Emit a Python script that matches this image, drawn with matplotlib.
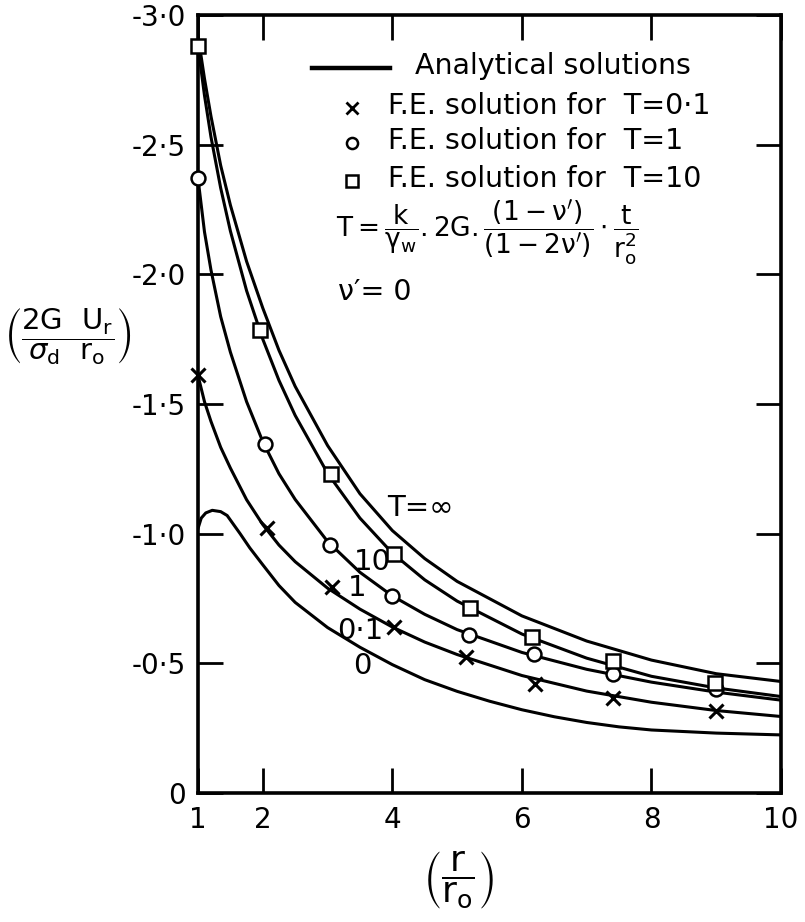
import matplotlib
matplotlib.use("Agg")
import matplotlib.pyplot as plt

plt.rcParams["font.family"] = ["DejaVu Sans"]
plt.rcParams["mathtext.fontset"] = "dejavusans"

# analytical curves: (r/r0, 2G Ur / sigma_d r0)
x_curve = [1.0, 1.1, 1.2, 1.35, 1.5, 1.75, 2.0, 2.25, 2.5, 3.0, 3.5, 4.0,
           4.5, 5.0, 6.0, 7.0, 8.0, 9.0, 10.0]
t_inf = [-2.92, -2.755, -2.61, -2.42, -2.267, -2.05, -1.87, -1.707, -1.568,
         -1.34, -1.154, -1.012, -0.904, -0.816, -0.683, -0.586, -0.5125,
         -0.46, -0.43]
t_10 = [-2.88, -2.69, -2.53, -2.333, -2.167, -1.937, -1.75, -1.591, -1.456,
        -1.233, -1.06, -0.925, -0.822, -0.74, -0.613, -0.52, -0.45, -0.405,
        -0.372]
t_1 = [-2.37, -2.164, -2.017, -1.837, -1.70, -1.509, -1.355, -1.231, -1.132,
       -0.97, -0.851, -0.76, -0.689, -0.63, -0.542, -0.477, -0.4275, -0.389,
       -0.358]
t_01 = [-1.61, -1.509, -1.433, -1.333, -1.253, -1.131, -1.035, -0.956,
        -0.892, -0.79, -0.709, -0.64, -0.582, -0.534, -0.453, -0.393, -0.35,
        -0.318, -0.295]

# T = 0 curve has the small hump near the cavity wall
x_t0 = [1.0, 1.05, 1.12, 1.22, 1.35, 1.45, 1.55, 1.65, 1.8, 2.0, 2.25, 2.5,
        3.0, 3.5, 4.0, 4.5, 5.0, 5.5, 6.0, 6.5, 7.0, 7.5, 8.0, 9.0, 10.0]
t_0 = [-1.02, -1.06, -1.08, -1.09, -1.085, -1.07, -1.035, -1.0, -0.945,
       -0.88, -0.80, -0.735, -0.638, -0.562, -0.495, -0.437, -0.392, -0.354,
       -0.321, -0.294, -0.272, -0.255, -0.243, -0.231, -0.224]

# finite element points
fe_x01 = [1.0, 2.06, 3.07, 4.03, 5.13, 6.2, 7.4, 9.0]
fe_y01 = [-1.61, -1.02, -0.795, -0.64, -0.525, -0.42, -0.365, -0.315]
fe_x1 = [1.0, 2.03, 3.04, 4.0, 5.18, 6.18, 7.4, 9.0]
fe_y1 = [-2.37, -1.346, -0.955, -0.76, -0.61, -0.535, -0.46, -0.40]
fe_x10 = [1.0, 1.95, 3.06, 4.03, 5.2, 6.15, 7.4, 8.98]
fe_y10 = [-2.88, -1.785, -1.23, -0.92, -0.715, -0.60, -0.51, -0.425]

x_ticks = [1, 2, 4, 6, 8, 10]
x_ticklabels = ["1", "2", "4", "6", "8", "10"]
y_ticks = [0, -0.5, -1.0, -1.5, -2.0, -2.5, -3.0]
y_ticklabels = ["0", "-0·5", "-1·0", "-1·5", "-2·0", "-2·5", "-3·0"]

W, H = 805, 922
fig = plt.figure(figsize=(W / 100, H / 100), dpi=100)
ax = fig.add_axes([198 / W, 1 - 793 / H, 583 / W, 778 / H])


def ax_xy(px, py):
    # pixel position in the figure -> axes fraction
    return (px - 198) / 583, (793 - py) / 778


lw = 2.2
for ys in (t_inf, t_10, t_1, t_01):
    ax.plot(x_curve, ys, color="black", lw=lw, solid_capstyle="round", zorder=2)
ax.plot(x_t0, t_0, color="black", lw=lw, zorder=2)

mk = dict(linestyle="none", color="black", markerfacecolor="white",
          markeredgecolor="black", markeredgewidth=1.8, markersize=10,
          zorder=4, clip_on=False)
ax.plot(fe_x01, fe_y01, marker="x", markersize=10, markeredgewidth=2.2,
        linestyle="none", color="black", zorder=4, clip_on=False)
ax.plot(fe_x1, fe_y1, marker="o", **mk)
ax.plot(fe_x10, fe_y10, marker="s", **mk)

ax.set_xlim(1, 10)
ax.set_ylim(0, -3.0)
ax.set_xticks(x_ticks)
ax.set_xticklabels(x_ticklabels)
ax.set_yticks(y_ticks)
ax.set_yticklabels(y_ticklabels)
ax.tick_params(direction="in", length=18, width=2, labelsize=20,
               top=True, right=True, pad=9)
for s in ax.spines.values():
    s.set_linewidth(2.6)

# curve labels
fs_lab = 21
ax.text(3.92, -1.10, "T=∞", fontsize=fs_lab, va="center")
ax.text(3.40, -0.89, "10", fontsize=fs_lab, va="center")
ax.text(3.32, -0.79, "1", fontsize=fs_lab, va="center")
ax.text(3.15, -0.625, "0·1", fontsize=fs_lab, va="center")
ax.text(3.40, -0.49, "0", fontsize=fs_lab, va="center")

# key drawn by hand, as in the original
fs_key = 20.5
x0, y0 = ax_xy(312, 68)
x1, _ = ax_xy(390, 68)
ax.plot([x0, x1], [y0, y0], transform=ax.transAxes, color="black", lw=3.2,
        clip_on=False)
ax.text(*ax_xy(415, 66), "Analytical solutions", transform=ax.transAxes,
        fontsize=fs_key, va="center")
key_rows = [("x", 108, "F.E. solution for  T=0·1"),
            ("o", 143, "F.E. solution for  T=1"),
            ("s", 181, "F.E. solution for  T=10")]
for m, py, label in key_rows:
    mx, my = ax_xy(352, py)
    if m == "x":
        ax.plot([mx], [my], marker="x", color="black", markersize=8,
                markeredgewidth=2, transform=ax.transAxes, clip_on=False)
    else:
        ax.plot([mx], [my], marker=m, markerfacecolor="white",
                markeredgecolor="black", markersize=8, markeredgewidth=1.8,
                transform=ax.transAxes, clip_on=False)
    ax.text(*ax_xy(388, py - 2), label, transform=ax.transAxes,
            fontsize=fs_key, va="center")

ax.text(*ax_xy(336, 233),
        r"$\mathrm{T=\dfrac{k}{\gamma_w}.2G.\dfrac{(1-\nu')}{(1-2\nu')}"
        r"\cdot\dfrac{t}{r_o^2}}$",
        transform=ax.transAxes, fontsize=19, va="center")
ax.text(*ax_xy(338, 292), "ν′= 0", transform=ax.transAxes,
        fontsize=fs_key, va="center")

# axis titles
fig.text(68 / W, 1 - 336 / H,
         r"$\left(\dfrac{\mathrm{2G\ \ U_r}}{\sigma_\mathrm{d}\ \ \mathrm{r_o}}\right)$",
         fontsize=21, ha="center", va="center")
fig.text(458 / W, 1 - 880 / H, r"$\left(\dfrac{\mathrm{r}}{\mathrm{r_o}}\right)$",
         fontsize=26, ha="center", va="center")

fig.savefig("out.png", dpi=100)
